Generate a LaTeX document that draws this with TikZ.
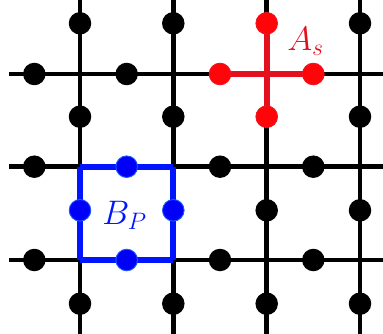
\RequirePackage{fix-cm}
\documentclass[tikz,border=0pt]{standalone}
\definecolor{starred}{RGB}{228,16,32}
\definecolor{dotred}{RGB}{255,5,10}
\definecolor{dotredline}{RGB}{240,20,30}
\definecolor{plaqblue}{RGB}{0,20,255}
\definecolor{dotblue}{RGB}{0,0,250}
\definecolor{dotblueline}{RGB}{30,90,255}
\begin{document}
\begin{tikzpicture}[x=1pt,y=-1pt,
  gridline/.style={line width=4.6pt,black},
  dot/.style={circle,fill=black,inner sep=0pt,minimum size=22.5pt},
  reddot/.style={dot,fill=dotred,draw=dotredline,line width=0.8pt,minimum size=21.7pt},
  bluedot/.style={dot,fill=dotblue,draw=dotblueline,line width=0.9pt,minimum size=21.6pt},
  redline/.style={line width=6pt,starred},
  blueline/.style={line width=6pt,plaqblue},
  lbl/.style={font=\fontsize{34}{40}\selectfont}]
\useasboundingbox (0,0) rectangle (383,334);
% grid line end points
\foreach \i/\x in {1/80,2/173.3,3/266.7,4/360}{
  \coordinate (vt\i) at (\x,0);
  \coordinate (vb\i) at (\x,334);
}
\foreach \j/\y in {1/74,2/166.7,3/260}{
  \coordinate (hl\j) at (9,\y);
  \coordinate (hr\j) at (383,\y);
}
\foreach \i in {1,...,4} \draw[gridline] (vt\i) -- (vb\i);
\foreach \j in {1,...,3} \draw[gridline] (hl\j) -- (hr\j);
% corners of plaquette
\coordinate (c1) at (80,166.7);
\coordinate (c2) at (173.3,166.7);
\coordinate (c3) at (173.3,260);
\coordinate (c4) at (80,260);
% star edges
\coordinate (sl) at (220,74);
\coordinate (sr) at (313.3,74);
\coordinate (st) at (266.7,23.3);
\coordinate (sb) at (266.7,116.7);
\draw[redline] (sl) -- (sr);
\draw[redline] (st) -- (sb);
\draw[blueline] (c1) -- (c2);
\draw[blueline] (c2) -- (c3);
\draw[blueline] (c3) -- (c4);
\draw[blueline] (c4) -- (c1);
% horizontal-edge dots
\node[dot] (h11) at (34.3,74) {};
\node[dot] (h12) at (126.7,74) {};
\node[reddot] (h13) at (sl) {};
\node[reddot] (h14) at (sr) {};
\node[dot] (h21) at (34.3,166.7) {};
\node[bluedot] (h22) at (126.7,166.7) {};
\node[dot] (h23) at (220,166.7) {};
\node[dot] (h24) at (313.3,166.7) {};
\node[dot] (h31) at (34.3,260) {};
\node[bluedot] (h32) at (126.7,260) {};
\node[dot] (h33) at (220,260) {};
\node[dot] (h34) at (313.3,260) {};
% vertical-edge dots
\node[dot] (v11) at (80,23.3) {};
\node[dot] (v12) at (80,116.7) {};
\node[bluedot] (v13) at (80,210.3) {};
\node[dot] (v14) at (80,303.7) {};
\node[dot] (v21) at (173.3,23.3) {};
\node[dot] (v22) at (173.3,116.7) {};
\node[bluedot] (v23) at (173.3,210.3) {};
\node[dot] (v24) at (173.3,303.7) {};
\node[reddot] (v31) at (st) {};
\node[reddot] (v32) at (sb) {};
\node[dot] (v33) at (266.7,210.3) {};
\node[dot] (v34) at (266.7,303.7) {};
\node[dot] (v41) at (360,23.3) {};
\node[dot] (v42) at (360,116.7) {};
\node[dot] (v43) at (360,210.3) {};
\node[dot] (v44) at (360,303.7) {};
% labels
\node[lbl,text=starred,inner sep=0pt] (as) at (305.5,41) {$A_s$};
\node[lbl,text=plaqblue,inner sep=0pt] (bp) at (124.5,215) {$B_P$};
\end{tikzpicture}
\end{document}
